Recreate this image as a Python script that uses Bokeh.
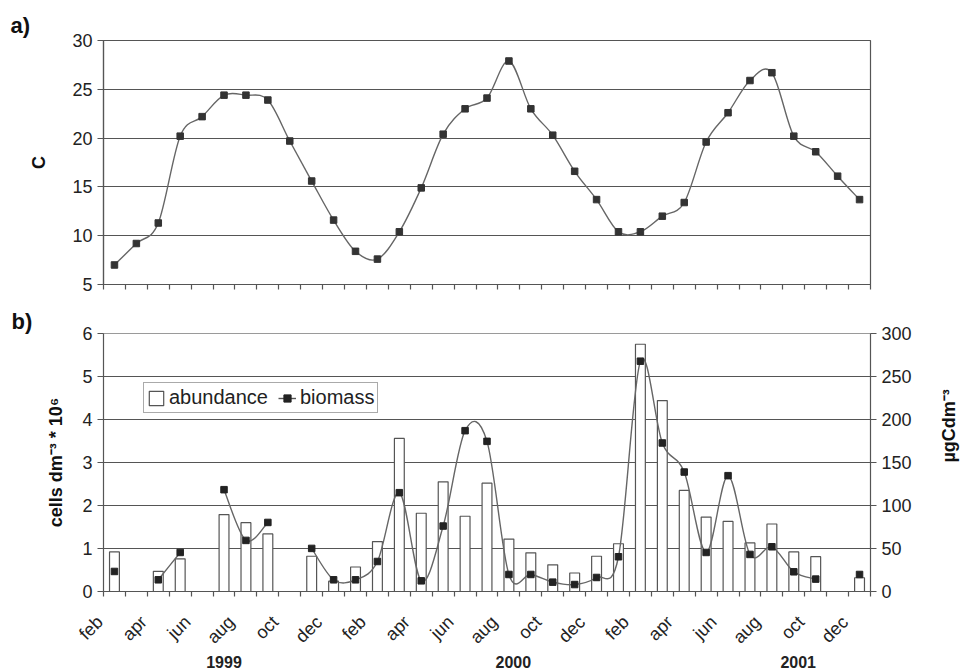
import math
from bokeh.plotting import figure
from bokeh.models import (Range1d, LinearAxis, FixedTicker, Legend, LegendItem,
                          Title, ColumnDataSource)
from bokeh.layouts import column
from bokeh.embed import file_html
from bokeh.resources import INLINE

# ---------------- data ----------------
# monthly samples, feb 1999 ... dec 2001
months = ["feb", "mar", "apr", "may", "jun", "jul", "aug", "sep", "oct", "nov", "dec",
          "jan", "feb", "mar", "apr", "may", "jun", "jul", "aug", "sep", "oct", "nov", "dec",
          "jan", "feb", "mar", "apr", "may", "jun", "jul", "aug", "sep", "oct", "nov", "dec"][:35]

temperature = [7.0, 9.2, 11.3, 20.2, 22.2, 24.4, 24.4, 23.9, 19.7, 15.6, 11.6, 8.4,
               7.6, 10.4, 14.9, 20.4, 23.0, 24.1, 27.9, 23.0, 20.3, 16.6, 13.7, 10.4,
               10.4, 12.0, 13.4, 19.6, 22.6, 25.9, 26.7, 20.2, 18.6, 16.1, 13.7]

abundance = [0.92, None, 0.47, 0.76, None, 1.79, 1.60, 1.34, None, 0.82, 0.24, 0.57,
             1.16, 3.56, 1.82, 2.55, 1.75, 2.52, 1.22, 0.90, 0.62, 0.43, 0.82, 1.11,
             5.75, 4.44, 2.35, 1.73, 1.63, 1.13, 1.57, 0.92, 0.81, None, 0.32]

biomass = [23.3, None, 13.6, 45.4, None, 118.4, 59.4, 80.3, None, 50.1, 13.6, 13.6,
           34.9, 114.9, 12.4, 76.1, 187.0, 174.6, 19.8, 19.8, 10.9, 8.1, 16.3, 40.4,
           267.8, 172.7, 138.9, 45.4, 134.7, 43.1, 52.0, 22.9, 14.4, None, 19.8]

years = ["1999", "2000", "2001"]
year_centres = [5.0, 18.2, 31.2]

temp_ticks = [5, 10, 15, 20, 25, 30]
abund_ticks = [0, 1, 2, 3, 4, 5, 6]
bio_ticks = [0, 50, 100, 150, 200, 250, 300]

# ---------------- helpers ----------------
FONT = "Liberation Sans"
AX = "#555555"
N = len(temperature)
xs = list(range(N))


def smooth(xv, yv):
    """Bezier segments (Catmull-Rom style, like a spreadsheet's smoothed line)."""
    runs, cur = [], []
    for x, y in zip(xv, yv):
        if y is None:
            if cur:
                runs.append(cur)
            cur = []
        else:
            cur.append((x, y))
    if cur:
        runs.append(cur)
    d = dict(x0=[], y0=[], x1=[], y1=[], cx0=[], cy0=[], cx1=[], cy1=[])
    for r in runs:
        n = len(r)
        for i in range(n - 1):
            p0 = r[i - 1] if i > 0 else r[i]
            p1, p2 = r[i], r[i + 1]
            p3 = r[i + 2] if i + 2 < n else r[i + 1]
            d["x0"].append(p1[0]); d["y0"].append(p1[1])
            d["x1"].append(p2[0]); d["y1"].append(p2[1])
            d["cx0"].append(p1[0] + (p2[0] - p0[0]) / 6.0)
            d["cy0"].append(p1[1] + (p2[1] - p0[1]) / 6.0)
            d["cx1"].append(p2[0] - (p3[0] - p1[0]) / 6.0)
            d["cy1"].append(p2[1] - (p3[1] - p1[1]) / 6.0)
    return d


def style_common(p):
    p.background_fill_color = "white"
    p.border_fill_color = "white"
    p.xgrid.visible = False
    p.ygrid.grid_line_color = AX
    p.ygrid.grid_line_width = 1.2
    for ax in p.axis:
        ax.axis_line_color = AX
        ax.axis_line_width = 1.2
        ax.major_tick_line_color = AX
        ax.major_tick_line_width = 1.2
        ax.minor_tick_line_color = AX
        ax.minor_tick_line_width = 1.2
        ax.major_tick_in = 0
        ax.minor_tick_in = 0
        ax.major_label_text_font = FONT
        ax.major_label_text_color = "#222222"
        ax.axis_label_text_font = FONT
        ax.axis_label_text_font_style = "bold"
        ax.axis_label_text_color = "#111111"


boundaries = [k - 0.5 for k in range(N + 1)]

# ---------------- panel a ----------------
p1 = figure(width=971, height=300, output_backend="svg", toolbar_location=None,
            x_range=Range1d(-0.5, N - 0.5), y_range=Range1d(5, 30),
            min_border_left=103, min_border_right=87, min_border_top=40,
            min_border_bottom=16)
p1.title = Title(text="a)", align="left", offset=-93, standoff=6,
                 text_font=FONT, text_font_style="bold", text_font_size="22px",
                 text_color="#111111")
style_common(p1)
p1.outline_line_color = AX
p1.outline_line_width = 1.2
p1.yaxis.ticker = FixedTicker(ticks=temp_ticks)
p1.yaxis.major_tick_out = 6
p1.yaxis.major_label_text_font_size = "18px"
p1.yaxis.axis_label = "C"
p1.yaxis.axis_label_text_font_size = "18px"
p1.yaxis.axis_label_standoff = 20
p1.xaxis.ticker = FixedTicker(ticks=[], minor_ticks=boundaries)
p1.xaxis.minor_tick_out = 5
p1.xaxis.major_tick_out = 0
p1.xaxis.major_label_standoff = 0

seg = ColumnDataSource(smooth(xs, temperature))
p1.bezier(x0="x0", y0="y0", x1="x1", y1="y1", cx0="cx0", cy0="cy0", cx1="cx1",
          cy1="cy1", source=seg, line_color="#666666", line_width=1.4)
p1.scatter(xs, temperature, marker="square", size=6.5, fill_color="#333333",
           line_color="#333333")

# ---------------- panel b ----------------
p2 = figure(width=971, height=371, output_backend="svg", toolbar_location=None,
            x_range=Range1d(-0.5, N - 0.5), y_range=Range1d(0, 6),
            min_border_left=102, min_border_right=87, min_border_top=33,
            min_border_bottom=80)
p2.title = Title(text="b)", align="left", offset=-92, standoff=0,
                 text_font=FONT, text_font_style="bold", text_font_size="22px",
                 text_color="#111111")
p2.extra_y_ranges = {"bio": Range1d(0, 300)}
raxis = LinearAxis(y_range_name="bio", ticker=FixedTicker(ticks=bio_ticks))
p2.add_layout(raxis, "right")
yearaxis = LinearAxis(ticker=FixedTicker(ticks=year_centres, minor_ticks=[]))
p2.add_layout(yearaxis, "below")
style_common(p2)
p2.outline_line_color = "#9a9a9a"
p2.ygrid.ticker = FixedTicker(ticks=abund_ticks[1:-1])

p2.yaxis[0].ticker = FixedTicker(ticks=abund_ticks)
p2.yaxis[0].major_tick_out = 6
p2.yaxis[0].major_label_text_font_size = "18px"
p2.yaxis[0].axis_label = "cells dm\u207b\u00b3 * 10\u2076"
p2.yaxis[0].axis_label_text_font_size = "18px"
p2.yaxis[0].axis_label_standoff = 13

raxis.major_tick_out = 6
raxis.major_label_text_font_size = "18px"
raxis.axis_label = "\u00b5gCdm\u207b\u00b3"
raxis.axis_label_text_font_size = "18px"
raxis.axis_label_standoff = 34
raxis.axis_label_orientation = math.pi / 2

# month labels hang from the category boundary on the left of each labelled month
label_pos = [k - 0.5 for k in range(0, N, 2)]
xa = p2.xaxis[0]
xa.ticker = FixedTicker(ticks=label_pos, minor_ticks=boundaries)
xa.major_label_overrides = {k - 0.5: months[k] + "\u00a0" for k in range(0, N, 2)}
xa.major_tick_out = 0
xa.minor_tick_out = 5
xa.major_label_orientation = math.pi / 4
xa.major_label_text_font_size = "18px"
xa.major_label_standoff = 19

yearaxis.axis_line_color = None
yearaxis.major_tick_line_color = None
yearaxis.minor_tick_line_color = None
yearaxis.major_label_overrides = {c: y for c, y in zip(year_centres, years)}
yearaxis.major_label_text_font_style = "bold"
yearaxis.major_label_text_font_size = "16px"
yearaxis.major_label_standoff = -8

bx = [x for x, v in zip(xs, abundance) if v is not None]
bv = [v for v in abundance if v is not None]
bars = p2.vbar(x=bx, top=bv, width=0.45, fill_color="white", line_color=AX,
               line_width=1.2)

bseg = ColumnDataSource(smooth(xs, biomass))
p2.bezier(x0="x0", y0="y0", x1="x1", y1="y1", cx0="cx0", cy0="cy0", cx1="cx1",
          cy1="cy1", source=bseg, line_color="#666666", line_width=1.4,
          y_range_name="bio")
mx = [x for x, v in zip(xs, biomass) if v is not None]
mv = [v for v in biomass if v is not None]
marks = p2.scatter(mx, mv, marker="square", size=6.5, fill_color="#222222",
                   line_color="#222222", y_range_name="bio")
# legend-only line sample (lies outside the visible x range)
legend_line = p2.line(x=[-20, -19], y=[0, 0], line_color="#555555", line_width=1.4,
                      y_range_name="bio")

legend = Legend(items=[LegendItem(label="abundance", renderers=[bars]),
                       LegendItem(label="biomass", renderers=[legend_line, marks])],
                orientation="horizontal", location=(40, 178))
legend.label_text_font = FONT
legend.label_text_font_size = "20px"
legend.label_text_color = "#222222"
legend.glyph_width = 18
legend.glyph_height = 18
legend.label_standoff = 4
legend.spacing = 10
legend.padding = 3
legend.margin = 0
legend.border_line_color = AX
legend.border_line_width = 1.2
legend.background_fill_color = "white"
legend.background_fill_alpha = 1.0
p2.add_layout(legend)

layout = column(p1, p2, spacing=0)
open("out.html", "w").write(file_html(layout, INLINE))
